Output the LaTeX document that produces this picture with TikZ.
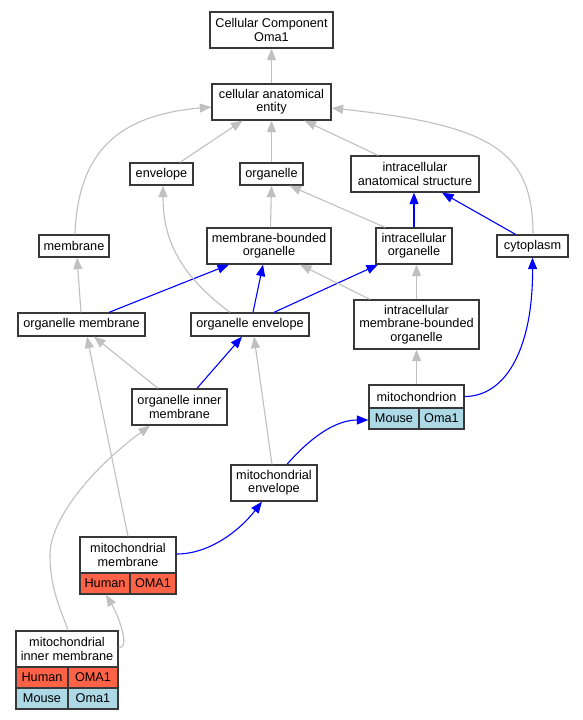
\documentclass[tikz,border=0pt]{standalone}
\usepackage{fontspec}
\setmainfont{Liberation Sans}
\usetikzlibrary{arrows.meta}
\definecolor{edgegray}{HTML}{C0C0C0}
\definecolor{boxline}{HTML}{383838}
\definecolor{tomatoc}{HTML}{FF6347}
\definecolor{lblue}{HTML}{ADD8E6}
\newcommand{\gofont}{\fontsize{12.7}{13.3}\selectfont}
\tikzset{
  box/.style={draw=boxline, line width=1.3pt, fill=white, inner sep=0pt, align=center, font=\gofont, text=black},
  cell/.style={box, fill=#1},
  gline/.style={draw=edgegray, line width=1.1pt, -{Triangle[length=11.5pt,width=9pt]}},
  bline/.style={draw=blue, line width=1.1pt, -{Triangle[length=11.5pt,width=9pt]}}
}
\begin{document}
\begin{tikzpicture}[x=1pt, y=-1pt]
\fill[white] (0,0) rectangle (583,720);
\useasboundingbox (0,0) rectangle (583,720);
% nodes
\node[box, minimum width=123, minimum height=36] (cc) at (271.5,30) {Cellular Component\\Oma1};
\node[box, minimum width=119, minimum height=36] (cae) at (271.5,102) {cellular anatomical\\entity};
\node[box, minimum width=63, minimum height=22] (env) at (161.5,174) {envelope};
\node[box, minimum width=63, minimum height=22] (org) at (271.5,174) {organelle};
\node[box, minimum width=128, minimum height=36] (ias) at (415,174) {intracellular\\anatomical structure};
\node[box, minimum width=70, minimum height=22] (mem) at (74,246) {membrane};
\node[box, minimum width=124, minimum height=36] (mbo) at (269,246) {membrane-bounded\\organelle};
\node[box, minimum width=76, minimum height=36] (io) at (414,246) {intracellular\\organelle};
\node[box, minimum width=71, minimum height=22] (cyt) at (532.5,246) {cytoplasm};
\node[box, minimum width=127, minimum height=23] (om) at (81.5,324.5) {organelle membrane};
\node[box, minimum width=118, minimum height=23] (oe) at (250,324.5) {organelle envelope};
\node[box, minimum width=125, minimum height=49] (imbo) at (416.5,324.5) {intracellular\\membrane-bounded\\organelle};
\node[box, minimum width=95, minimum height=36] (oim) at (179.5,407) {organelle inner\\membrane};
% mitochondrion table
\node[box, minimum width=95, minimum height=23] (mito) at (416.5,396.5) {mitochondrion};
\node[cell=lblue, minimum width=50, minimum height=21] (mitoA) at (394,418.5) {Mouse};
\node[cell=lblue, minimum width=45, minimum height=21] (mitoB) at (441.5,418.5) {Oma1};
\node[box, minimum width=86, minimum height=36] (menv) at (274,483) {mitochondrial\\envelope};
% mitochondrial membrane table
\node[box, minimum width=96, minimum height=36] (mm) at (128,555) {mitochondrial\\membrane};
\node[cell=tomatoc, minimum width=50, minimum height=21] (mmA) at (105,583.5) {Human};
\node[cell=tomatoc, minimum width=46, minimum height=21] (mmB) at (153,583.5) {OMA1};
% mitochondrial inner membrane table
\node[box, minimum width=102, minimum height=36] (mim) at (67,649) {mitochondrial\\inner membrane};
\node[cell=tomatoc, minimum width=52, minimum height=21] (mimA) at (42,677.5) {Human};
\node[cell=tomatoc, minimum width=50, minimum height=21] (mimB) at (93,677.5) {OMA1};
\node[cell=lblue, minimum width=52, minimum height=21] (mimC) at (42,698.5) {Mouse};
\node[cell=lblue, minimum width=50, minimum height=21] (mimD) at (93,698.5) {Oma1};
% edges
\draw[gline] (cae.north) -- (cc.south);
\draw[gline] ([xshift=18.5]env.north) -- ([xshift=-29]cae.south);
\draw[gline] (org.north) -- (cae.south);
\draw[gline] ([xshift=-37]ias.north) -- ([xshift=33]cae.south);
\draw[gline] ([xshift=1]mem.north) .. controls (78,150) and (120,115) .. ([yshift=-5]cae.west);
\draw[gline] ([xshift=0.5]cyt.north) .. controls (533,150) and (490,125) .. ([yshift=-6]cae.east);
\draw[gline] ([xshift=1.5]mbo.north) -- (org.south);
\draw[gline] ([xshift=-29]io.north) -- ([xshift=18]org.south);
\draw[bline] (io.north) -- (io.north |- ias.south);
\draw[bline] ([xshift=-17]cyt.north) -- ([xshift=27]ias.south);
\draw[gline] ([xshift=-0.5]om.north) -- ([xshift=3]mem.south);
\draw[bline] ([xshift=27.5]om.north) -- ([xshift=-40]mbo.south);
\draw[gline] ([xshift=-20]oe.north) .. controls (180,275) and (163,240) .. ([xshift=1.5]env.south);
\draw[bline] ([xshift=3]oe.north) -- ([xshift=-6]mbo.south);
\draw[bline] ([xshift=24]oe.north) -- ([xshift=-36]io.south);
\draw[gline] ([xshift=-46.5]imbo.north) -- ([xshift=31]mbo.south);
\draw[gline] (imbo.north) -- (imbo.north |- io.south);
\draw[gline] ([xshift=-21.5]oim.north) -- ([xshift=12.5]om.south);
\draw[bline] ([xshift=17.5]oim.north) -- ([xshift=-8]oe.south);
\draw[gline] (mito.north) -- (imbo.south);
\draw[bline] (mito.east) .. controls (505,396.5) and (533,350) .. (cyt.south);
\draw[gline] ([xshift=-2]menv.north) -- ([xshift=4]oe.south);
\draw[bline] ([xshift=13]menv.north) .. controls (310,438) and (335,420) .. ([yshift=-1.5]mitoA.west);
\draw[gline] (mm.north) -- ([xshift=5.5]om.south);
\draw[bline] ([yshift=1]mm.east) .. controls (210,554) and (240,530) .. ([xshift=-12]menv.south);
\draw[gline] ([xshift=1]mim.north) .. controls (62,612) and (50,590) .. (50,555) .. controls (50,520) and (90,470) .. ([xshift=-29.5]oim.south);
\draw[gline] ([yshift=1]mim.east) .. controls (131,648) and (118,615) .. ([xshift=1]mmA.south);
\end{tikzpicture}
\end{document}
